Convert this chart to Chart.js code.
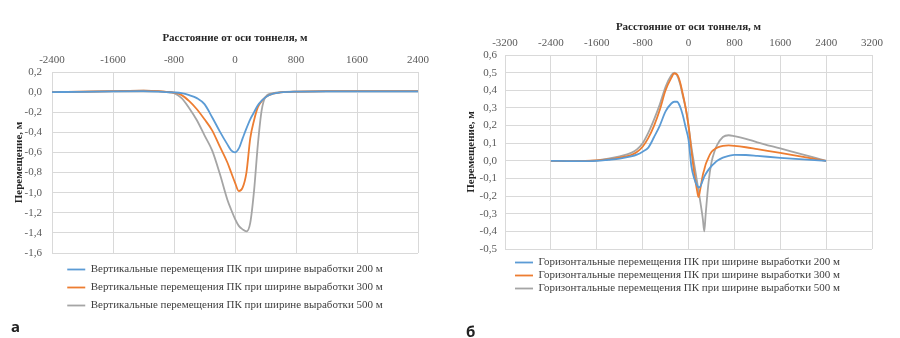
<!DOCTYPE html>
<html lang="ru">
<head>
<meta charset="UTF-8">
<title>Перемещения ПК</title>
<script src="https://cdn.jsdelivr.net/npm/chart.js"></script>
<style>
  body { margin: 0; background: #fff; width: 900px; height: 338px; position: relative; overflow: hidden; }
  .box { position: absolute; }
  #boxA { left: 0; top: 0; width: 440px; height: 324px; }
  #boxB { left: 450px; top: 0; width: 440px; height: 306px; }
  .tag { position: absolute; font: bold 15px/15px "Noto Sans", sans-serif; color: #222; }
</style>
</head>
<body>

<div class="box" id="boxA"><canvas id="chartA"></canvas></div>
<div class="box" id="boxB"><canvas id="chartB"></canvas></div>
<div class="tag" style="left:11px; top:319px;">а</div>
<div class="tag" style="left:466px; top:324px;">б</div>

<script>
// --- data (distance from tunnel axis, m / displacement, m) ---
const xVert = [-2400, -2000, -1600, -1200, -1000, -900, -800, -700, -600, -500, -400, -300, -200, -100, -50, 0,
               50, 100, 150, 200, 250, 300, 350, 400, 500, 600, 800, 1200, 1600, 2000, 2400];
const vert200 = [0, 0.003, 0.008, 0.01, 0.005, 0, -0.003, -0.01, -0.03, -0.06, -0.12, -0.25, -0.39, -0.52, -0.58, -0.6,
                 -0.56, -0.46, -0.36, -0.27, -0.2, -0.13, -0.085, -0.05, -0.015, -0.003, 0.005, 0.008, 0.008, 0.008, 0.008];
const vert300 = [0, 0.005, 0.01, 0.015, 0.01, 0.003, -0.005, -0.03, -0.09, -0.17, -0.27, -0.38, -0.54, -0.7, -0.8, -0.9,
                 -0.985, -0.95, -0.8, -0.46, -0.28, -0.15, -0.09, -0.05, -0.015, -0.003, 0.005, 0.01, 0.01, 0.01, 0.01];
const vert500 = [0, 0.005, 0.01, 0.015, 0.01, 0, -0.01, -0.06, -0.16, -0.28, -0.43, -0.58, -0.81, -1.07, -1.17, -1.26,
                 -1.33, -1.365, -1.385, -1.3, -0.98, -0.52, -0.18, -0.05, -0.01, 0, 0.005, 0.01, 0.01, 0.01, 0.01];

const xHor = [-2400, -2000, -1600, -1400, -1200, -1000, -900, -800, -700, -600, -500, -400, -300, -250, -200, -150, -100, -50, 0,
              50, 100, 150, 175, 200, 250, 275, 300, 350, 400, 450, 500, 600, 700, 800, 1000, 1200, 1600, 2000, 2400];
const hor200 = [0, -0.002, 0, 0.006, 0.013, 0.025, 0.035, 0.052, 0.075, 0.135, 0.2, 0.28, 0.325, 0.335, 0.335, 0.31, 0.26, 0.19, 0.12,
                -0.03, -0.1, -0.14, -0.15, -0.148, -0.11, -0.09, -0.075, -0.05, -0.03, -0.014, 0, 0.018, 0.028, 0.034, 0.033, 0.028, 0.017, 0.008, 0];
const hor300 = [0, -0.002, 0.002, 0.008, 0.018, 0.033, 0.05, 0.08, 0.13, 0.2, 0.29, 0.4, 0.47, 0.495, 0.49, 0.45, 0.38, 0.3, 0.2,
                0.06, -0.07, -0.17, -0.205, -0.17, -0.08, -0.05, -0.02, 0.02, 0.05, 0.065, 0.075, 0.085, 0.087, 0.085, 0.077, 0.066, 0.045, 0.022, 0];
const hor500 = [0, -0.002, 0.003, 0.012, 0.025, 0.045, 0.065, 0.1, 0.16, 0.235, 0.32, 0.42, 0.485, 0.5, 0.485, 0.44, 0.37, 0.3, 0.2,
                0.08, -0.02, -0.12, -0.17, -0.22, -0.33, -0.4, -0.3, -0.12, -0.01, 0.05, 0.09, 0.135, 0.145, 0.14, 0.125, 0.105, 0.07, 0.035, 0];

const vertLabels = ['Вертикальные перемещения ПК при ширине выработки 200 м',
                    'Вертикальные перемещения ПК при ширине выработки 300 м',
                    'Вертикальные перемещения ПК при ширине выработки 500 м'];
const horLabels = ['Горизонтальные перемещения ПК при ширине выработки 200 м',
                   'Горизонтальные перемещения ПК при ширине выработки 300 м',
                   'Горизонтальные перемещения ПК при ширине выработки 500 м'];
const colors = ['#5B9BD5', '#ED7D31', '#A5A5A5'];

const serif = '"Liberation Serif", "Times New Roman", serif';
const gridColor = '#D9D9D9';

function toPoints(xs, ys) {
    return xs.map((x, i) => ({ x: x, y: ys[i] }));
}

function makeChart(id, cfg) {
    const datasets = cfg.series.map((ys, i) => ({
        label: cfg.labels[i],
        data: toPoints(cfg.xs, ys),
        borderColor: colors[i],
        backgroundColor: colors[i],
        borderWidth: 1.8,
        pointRadius: 0,
        cubicInterpolationMode: 'monotone',
        showLine: true
    }));

    // nudge the legend sideways so it sits where the original one does
    const legendShift = {
        id: 'legendShift',
        afterLayout(chart) {
            chart.legend.left += cfg.legendShift;
            chart.legend.right += cfg.legendShift;
        }
    };

    return new Chart(document.getElementById(id), {
        type: 'scatter',
        data: { datasets: datasets },
        plugins: [legendShift],
        options: {
            responsive: true,
            maintainAspectRatio: false,
            animation: false,
            layout: { padding: cfg.padding },
            plugins: {
                tooltip: { enabled: false },
                legend: {
                    position: 'bottom',
                    labels: {
                        usePointStyle: true,
                        pointStyle: 'line',
                        pointStyleWidth: 18,
                        padding: cfg.legendPad,
                        color: '#404040',
                        font: { family: serif, size: 11 }
                    }
                }
            },
            scales: {
                x: {
                    type: 'linear',
                    position: 'top',
                    min: cfg.xMin, max: cfg.xMax,
                    ticks: { stepSize: 800, padding: 5, maxRotation: 0, autoSkip: false,
                             color: '#595959', font: { family: serif, size: 11 },
                             callback: v => String(v) },
                    grid: { color: gridColor, drawTicks: false },
                    border: { color: gridColor },
                    title: { display: true, text: 'Расстояние от оси тоннеля, м', color: '#262626',
                             font: { family: serif, size: 11, weight: 'bold' }, padding: { top: 2, bottom: 0 } },
                    afterFit: s => { s.height = cfg.xHeight; }
                },
                // empty spacer between the plot and the legend
                gap: {
                    type: 'linear',
                    position: 'bottom',
                    ticks: { display: false },
                    grid: { display: false },
                    border: { display: false },
                    afterFit: s => { s.height = cfg.legendGap; }
                },
                y: {
                    min: cfg.yMin, max: cfg.yMax,
                    ticks: { stepSize: cfg.yStep, padding: cfg.yTickPad, color: '#595959',
                             font: { family: serif, size: 11 },
                             callback: v => v.toFixed(1).replace('.', ',') },
                    grid: { color: gridColor, drawTicks: false },
                    border: { color: gridColor },
                    title: { display: true, text: 'Перемещение, м', color: '#262626',
                             font: { family: serif, size: 11, weight: 'bold' }, padding: { top: cfg.yTitlePad, bottom: 0 } },
                    afterFit: s => { s.width = cfg.yWidth; }
                }
            }
        }
    });
}

makeChart('chartA', {
    xs: xVert, series: [vert200, vert300, vert500], labels: vertLabels,
    xMin: -2400, xMax: 2400, yMin: -1.6, yMax: 0.2, yStep: 0.2,
    padding: { top: 30, left: 10, right: 22, bottom: 3 },
    xHeight: 42, yWidth: 42, yTickPad: 10, yTitlePad: 3,
    legendPad: 7, legendGap: 4, legendShift: 11
});

makeChart('chartB', {
    xs: xHor, series: [hor200, hor300, hor500], labels: horLabels,
    xMin: -3200, xMax: 3200, yMin: -0.5, yMax: 0.6, yStep: 0.1,
    padding: { top: 19, left: 15, right: 18, bottom: 2 },
    xHeight: 36, yWidth: 40, yTickPad: 8, yTitlePad: 0,
    legendPad: 2, legendGap: 6, legendShift: 9
});
</script>

</body>
</html>
